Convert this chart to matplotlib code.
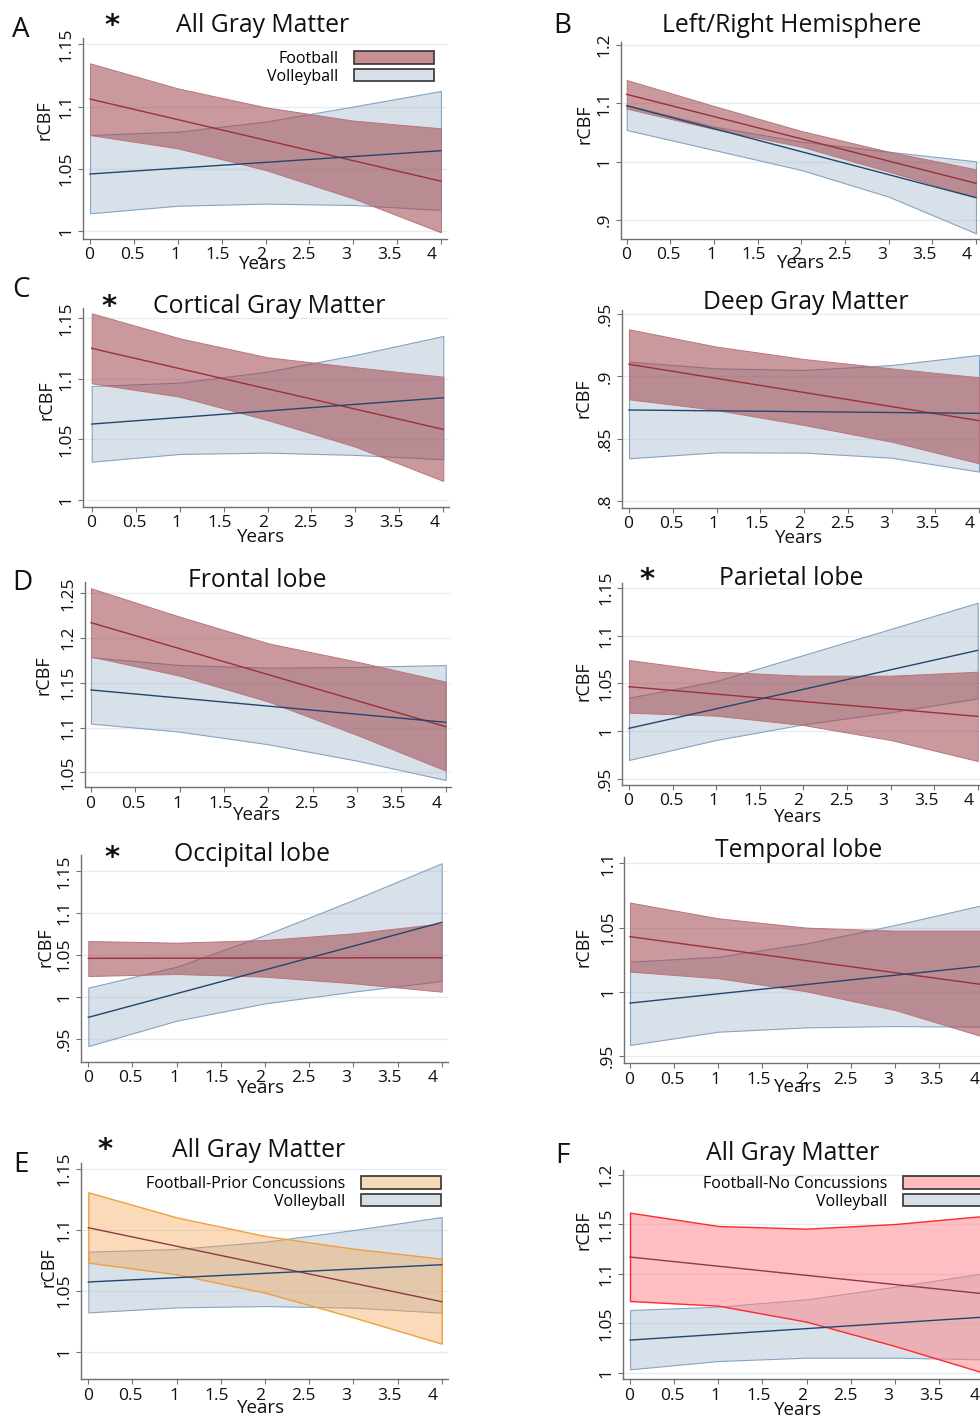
import matplotlib
matplotlib.use("Agg")
import matplotlib.pyplot as plt
from matplotlib.patches import Patch
from matplotlib.transforms import ScaledTranslation

plt.rcParams['font.family'] = ['Open Sans', 'DejaVu Sans']

# ---------------- data ----------------
years_band = [0, 1, 2, 3, 4]
years_line = [0, 4]
year_ticks = [0, 0.5, 1, 1.5, 2, 2.5, 3, 3.5, 4]
year_ticklabels = ['0', '0.5', '1', '1.5', '2', '2.5', '3', '3.5', '4']

# A: All Gray Matter
agm_fb_line = [1.106, 1.040]
agm_fb_hi = [1.1347, 1.1146, 1.0994, 1.0887, 1.0825]
agm_fb_lo = [1.0771, 1.0664, 1.0490, 1.0262, 0.9989]
agm_vb_line = [1.0458, 1.0645]
agm_vb_hi = [1.0771, 1.0798, 1.0879, 1.1000, 1.1125]
agm_vb_lo = [1.0142, 1.0203, 1.0220, 1.0209, 1.0169]

# B: Left/Right Hemisphere
lrh_fb_line = [1.1154, 0.9629]
lrh_fb_hi = [1.1400, 1.0954, 1.0526, 1.0171, 0.9869]
lrh_fb_lo = [1.0909, 1.0560, 1.0257, 0.9829, 0.9389]
lrh_vb_line = [1.0960, 0.9383]
lrh_vb_hi = [1.0971, 1.0600, 1.0343, 1.0171, 1.0006]
lrh_vb_lo = [1.0543, 1.0200, 0.9857, 0.9400, 0.8771]

# C: Cortical Gray Matter
cgm_fb_line = [1.1252, 1.0583]
cgm_fb_hi = [1.1541, 1.1335, 1.1178, 1.1095, 1.1018]
cgm_fb_lo = [1.0963, 1.0853, 1.0660, 1.0440, 1.0157]
cgm_vb_line = [1.0627, 1.0844]
cgm_vb_hi = [1.0941, 1.0969, 1.1060, 1.1197, 1.1354]
cgm_vb_lo = [1.0316, 1.0380, 1.0391, 1.0372, 1.0336]

# Deep Gray Matter
dgm_fb_line = [0.9098, 0.8644]
dgm_fb_hi = [0.9379, 0.9240, 0.9140, 0.9065, 0.8993]
dgm_fb_lo = [0.8816, 0.8730, 0.8609, 0.8475, 0.8301]
dgm_vb_line = [0.8730, 0.8703]
dgm_vb_hi = [0.9119, 0.9065, 0.9052, 0.9092, 0.9173]
dgm_vb_lo = [0.8341, 0.8389, 0.8387, 0.8346, 0.8234]

# D: Frontal lobe
fro_fb_line = [1.2172, 1.1010]
fro_fb_hi = [1.2556, 1.2239, 1.1941, 1.1736, 1.1513]
fro_fb_lo = [1.1792, 1.1580, 1.1290, 1.0917, 1.0519]
fro_vb_line = [1.1420, 1.1059]
fro_vb_hi = [1.1785, 1.1699, 1.1669, 1.1677, 1.1699]
fro_vb_lo = [1.1044, 1.0954, 1.0813, 1.0630, 1.0414]

# Parietal lobe
par_fb_line = [1.0465, 1.0155]
par_fb_hi = [1.0744, 1.0622, 1.0580, 1.0580, 1.0622]
par_fb_lo = [1.0193, 1.0162, 1.0064, 0.9908, 0.9688]
par_vb_line = [1.0030, 1.0845]
par_vb_hi = [1.0350, 1.0524, 1.0796, 1.1068, 1.1343]
par_vb_lo = [0.9699, 0.9908, 1.0071, 1.0197, 1.0343]

# Occipital lobe
occ_fb_line = [1.0460, 1.0468]
occ_fb_hi = [1.0667, 1.0647, 1.0679, 1.0759, 1.0878]
occ_fb_lo = [1.0249, 1.0273, 1.0241, 1.0162, 1.0062]
occ_vb_line = [0.9755, 1.0890]
occ_vb_hi = [1.0110, 1.0360, 1.0739, 1.1157, 1.1596]
occ_vb_lo = [0.9412, 0.9715, 0.9922, 1.0062, 1.0189]

# Temporal lobe
tem_fb_line = [1.0429, 1.0055]
tem_fb_hi = [1.0694, 1.0572, 1.0499, 1.0476, 1.0476]
tem_fb_lo = [1.0157, 1.0105, 1.0003, 0.9858, 0.9650]
tem_vb_line = [0.9912, 1.0201]
tem_vb_hi = [1.0234, 1.0273, 1.0377, 1.0520, 1.0676]
tem_vb_lo = [0.9586, 0.9689, 0.9723, 0.9733, 0.9728]

# E: All Gray Matter, football with prior concussions
epc_fb_line = [1.1019, 1.0411]
epc_fb_hi = [1.1310, 1.1104, 1.0951, 1.0847, 1.0764]
epc_fb_lo = [1.0732, 1.0636, 1.0485, 1.0282, 1.0066]
epc_vb_line = [1.0573, 1.0715]
epc_vb_hi = [1.0822, 1.0844, 1.0904, 1.1000, 1.1107]
epc_vb_lo = [1.0323, 1.0364, 1.0375, 1.0362, 1.0321]

# F: All Gray Matter, football without concussions
fnc_fb_line = [1.1170, 1.0799]
fnc_fb_hi = [1.1619, 1.1484, 1.1457, 1.1504, 1.1585]
fnc_fb_lo = [1.0725, 1.0678, 1.0516, 1.0270, 1.0000]
fnc_vb_line = [1.0330, 1.0562]
fnc_vb_hi = [1.0634, 1.0668, 1.0742, 1.0870, 1.1005]
fnc_vb_lo = [1.0034, 1.0118, 1.0152, 1.0152, 1.0135]

titles = ['All Gray Matter', 'Left/Right Hemisphere', 'Cortical Gray Matter',
          'Deep Gray Matter', 'Frontal lobe', 'Parietal lobe', 'Occipital lobe',
          'Temporal lobe', 'All Gray Matter', 'All Gray Matter']
legend_labels_A = ['Football', 'Volleyball']
legend_labels_E = ['Football-Prior Concussions', 'Volleyball']
legend_labels_F = ['Football-No Concussions', 'Volleyball']

yt_A = [1, 1.05, 1.1, 1.15]; ytl_A = ['1', '1.05', '1.1', '1.15']
yt_B = [0.9, 1.0, 1.1, 1.2]; ytl_B = ['.9', '1', '1.1', '1.2']
yt_C = [1, 1.05, 1.1, 1.15]; ytl_C = ['1', '1.05', '1.1', '1.15']
yt_DG = [0.8, 0.85, 0.9, 0.95]; ytl_DG = ['.8', '.85', '.9', '.95']
yt_FR = [1.05, 1.1, 1.15, 1.2, 1.25]; ytl_FR = ['1.05', '1.1', '1.15', '1.2', '1.25']
yt_PA = [0.95, 1, 1.05, 1.1, 1.15]; ytl_PA = ['.95', '1', '1.05', '1.1', '1.15']
yt_OC = [0.95, 1, 1.05, 1.1, 1.15]; ytl_OC = ['.95', '1', '1.05', '1.1', '1.15']
yt_TE = [0.95, 1, 1.05, 1.1]; ytl_TE = ['.95', '1', '1.05', '1.1']
yt_E = [1, 1.05, 1.1, 1.15]; ytl_E = ['1', '1.05', '1.1', '1.15']
yt_F = [1, 1.05, 1.1, 1.15, 1.2]; ytl_F = ['1', '1.05', '1.1', '1.15', '1.2']

# ---------------- styling ----------------
W, H = 980, 1418
fig = plt.figure(figsize=(W / 100, H / 100), dpi=100)
fig.patch.set_facecolor('white')

RED_FILL = (160/255, 69/255, 77/255, 0.55)
RED_EDGE = '#b8767c'
RED_LINE = '#9c2f3a'
BLUE_FILL = (169/255, 188/255, 207/255, 0.45)
BLUE_EDGE = '#86a4c2'
BLUE_LINE = '#24466e'
ORANGE_FILL = (244/255, 164/255, 81/255, 0.40)
ORANGE_EDGE = '#f0a03c'
PINK_FILL = (255/255, 127/255, 132/255, 0.50)
PINK_EDGE = '#ff2a2a'
FB2_LINE = '#8b3a46'
AXCOL = '#707070'
TXT = '#111111'


def px_ax(L):
    left, top, right, bottom = L['box']
    ax = fig.add_axes([left / W, 1 - bottom / H, (right - left) / W, (bottom - top) / H])
    ppx = (L['px4'] - L['px0']) / 4.0
    ax.set_xlim(-(L['px0'] - left) / ppx, 4 + (right - L['px4']) / ppx)
    (v1, p1), (v2, p2) = L['yref']
    ppy = (p2 - p1) / (v1 - v2)
    ax.set_ylim(v2 - (bottom - p2) / ppy, v1 + (p1 - top) / ppy)
    return ax


def to_ax(L, px, py):
    left, top, right, bottom = L['box']
    return (px - left) / (right - left), (bottom - py) / (bottom - top)


panels = [
    dict(data=(agm_fb_line, agm_fb_lo, agm_fb_hi, agm_vb_line, agm_vb_lo, agm_vb_hi),
         yt=yt_A, ytl=ytl_A, title=titles[0], style='red',
         box=(83, 38, 447, 239), px0=90, px4=441, yref=((1.15, 44.3), (1.0, 231)),
         tpos=(263, 31.7), ylab=(44, 120), xlab=(263, 269), letter=('A', 21, 36.7), star=(111.7, 25.5),
         legend=(legend_labels_A, 434, 51)),
    dict(data=(lrh_fb_line, lrh_fb_lo, lrh_fb_hi, lrh_vb_line, lrh_vb_lo, lrh_vb_hi),
         yt=yt_B, ytl=ytl_B, title=titles[1], style='red',
         box=(620.7, 42, 982, 239), px0=626.7, px4=976, yref=((1.2, 45), (0.9, 220)),
         tpos=(792, 31.7), ylab=(584, 124), xlab=(801, 268), letter=('B', 562, 33.3)),
    dict(data=(cgm_fb_line, cgm_fb_lo, cgm_fb_hi, cgm_vb_line, cgm_vb_lo, cgm_vb_hi),
         yt=yt_C, ytl=ytl_C, title=titles[2], style='red',
         box=(83, 308, 449, 507), px0=91.7, px4=443.3, yref=((1.15, 318.3), (1.0, 500)),
         tpos=(269, 313.3), ylab=(46, 400), xlab=(261, 541.7), letter=('C', 21, 297), star=(109, 307)),
    dict(data=(dgm_fb_line, dgm_fb_lo, dgm_fb_hi, dgm_vb_line, dgm_vb_lo, dgm_vb_hi),
         yt=yt_DG, ytl=ytl_DG, title=titles[3], style='red',
         box=(621.7, 310, 985, 508), px0=629, px4=979, yref=((0.95, 314.3), (0.8, 500.7)),
         tpos=(806, 309.3), ylab=(583, 398), xlab=(799, 543)),
    dict(data=(fro_fb_line, fro_fb_lo, fro_fb_hi, fro_vb_line, fro_vb_lo, fro_vb_hi),
         yt=yt_FR, ytl=ytl_FR, title=titles[4], style='red',
         box=(85, 582, 451, 787.3), px0=91, px4=445.7, yref=((1.25, 593.3), (1.05, 772.3)),
         tpos=(257, 587.3), ylab=(43, 675), xlab=(257, 820), letter=('D', 22, 590)),
    dict(data=(par_fb_line, par_fb_lo, par_fb_hi, par_vb_line, par_vb_lo, par_vb_hi),
         yt=yt_PA, ytl=ytl_PA, title=titles[5], style='red',
         box=(622.3, 583, 984, 785), px0=629, px4=977.7, yref=((1.15, 587.7), (0.95, 779)),
         tpos=(791, 585), ylab=(583, 681), xlab=(798, 821.7), star=(647, 579.5)),
    dict(data=(occ_fb_line, occ_fb_lo, occ_fb_hi, occ_vb_line, occ_vb_lo, occ_vb_hi),
         yt=yt_OC, ytl=ytl_OC, title=titles[6], style='red',
         box=(81, 855, 447.7, 1061.7), px0=88.3, px4=441.7, yref=((1.15, 871.3), (0.95, 1038.7)),
         tpos=(252.5, 860.7), ylab=(45, 947), xlab=(261, 1093), star=(112, 857.5)),
    dict(data=(tem_fb_line, tem_fb_lo, tem_fb_hi, tem_vb_line, tem_vb_lo, tem_vb_hi),
         yt=yt_TE, ytl=ytl_TE, title=titles[7], style='red',
         box=(624.3, 857.3, 989, 1063.3), px0=630, px4=983.3, yref=((1.1, 863.3), (0.95, 1056)),
         tpos=(799, 856.7), ylab=(583, 947), xlab=(798, 1091.7)),
    dict(data=(epc_fb_line, epc_fb_lo, epc_fb_hi, epc_vb_line, epc_vb_lo, epc_vb_hi),
         yt=yt_E, ytl=ytl_E, title=titles[8], style='orange',
         box=(81, 1163.3, 447.7, 1379.3), px0=88.3, px4=441.7, yref=((1.15, 1169.2), (1.0, 1351.7)),
         tpos=(259, 1156.7), ylab=(48, 1267), xlab=(261, 1413.3), letter=('E', 21, 1171.7), star=(105, 1150.5),
         legend=(legend_labels_E, 441, 1176)),
    dict(data=(fnc_fb_line, fnc_fb_lo, fnc_fb_hi, fnc_vb_line, fnc_vb_lo, fnc_vb_hi),
         yt=yt_F, ytl=ytl_F, title=titles[9], style='pink',
         box=(622.7, 1170, 989, 1379.3), px0=630, px4=983.3, yref=((1.2, 1175), (1.0, 1372.7)),
         tpos=(793, 1160), ylab=(584, 1230), xlab=(798, 1415), letter=('F', 562, 1163.3),
         legend=(legend_labels_F, 983, 1176)),
]

for P in panels:
    ax = px_ax(P)
    fb_line, fb_lo, fb_hi, vb_line, vb_lo, vb_hi = P['data']
    if P['style'] == 'red':
        ffill, fedge, fline, flw = RED_FILL, RED_EDGE, RED_LINE, 0.7
        leg_col = '#c58f93'
    elif P['style'] == 'orange':
        ffill, fedge, fline, flw = ORANGE_FILL, ORANGE_EDGE, FB2_LINE, 1.0
        leg_col = '#f9dab8'
    else:
        ffill, fedge, fline, flw = PINK_FILL, PINK_EDGE, FB2_LINE, 1.0
        leg_col = '#ffbcbe'

    ax.set_yticks(P['yt'])
    ax.set_yticklabels(P['ytl'])
    ax.set_xticks(year_ticks)
    ax.set_xticklabels(year_ticklabels)
    ax.grid(axis='y', color='#e6edf2', lw=1.0, zorder=0)
    ax.set_axisbelow(True)

    ax.fill_between(years_band, vb_lo, vb_hi, facecolor=BLUE_FILL, edgecolor=BLUE_EDGE, lw=0.8, zorder=2)
    ax.fill_between(years_band, fb_lo, fb_hi, facecolor=ffill, edgecolor=fedge, lw=flw, zorder=3)
    ax.plot(years_line, fb_line, color=fline, lw=1.0, zorder=4)
    ax.plot(years_line, vb_line, color=BLUE_LINE, lw=1.0, zorder=5)

    for s in ['top', 'right']:
        ax.spines[s].set_visible(False)
    for s in ['left', 'bottom']:
        ax.spines[s].set_color(AXCOL)
        ax.spines[s].set_linewidth(1.0)
    ax.tick_params(axis='both', colors=AXCOL, labelcolor=TXT, labelsize=12.5,
                   length=3.5, width=0.8, pad=2.5)
    for lab in ax.get_yticklabels():
        lab.set_rotation(90)
        lab.set_va('center')
        lab.set_ha('right')
    # Stata-like placement: x tick labels sit slightly left of their tick marks
    for xv, lab in zip(year_ticks, ax.get_xticklabels()):
        dx = -(0.6 + 2.1 * xv) / 100.0
        lab.set_transform(lab.get_transform() + ScaledTranslation(dx, 0, fig.dpi_scale_trans))

    ax.set_xlabel('Years', fontsize=13.5, color=TXT)
    ax.xaxis.label.set_va('baseline')
    ax.xaxis.set_label_coords(*to_ax(P, *P['xlab']))
    ax.set_ylabel('rCBF', fontsize=13, color=TXT)
    ax.yaxis.label.set_va('center')
    ax.yaxis.set_label_coords(*to_ax(P, *P['ylab']))

    tx, ty = P['tpos']
    fig.text(tx / W, 1 - ty / H, P['title'], ha='center', va='baseline', fontsize=17.8, color=TXT)
    if 'letter' in P:
        l, lx, ly = P['letter']
        fig.text(lx / W, 1 - ly / H, l, ha='center', va='baseline', fontsize=20, color=TXT)
    if 'star' in P:
        sx, sy = P['star']
        fig.text(sx / W, 1 - sy / H, '*', ha='center', va='center', fontsize=21,
                 fontweight='bold', family='DejaVu Sans', color=TXT)
    if 'legend' in P:
        labels, rx, ty2 = P['legend']
        handles = [Patch(facecolor=leg_col, edgecolor='#333333', lw=1.2),
                   Patch(facecolor='#d7e0e8', edgecolor='#333333', lw=1.2)]
        ax.legend(handles, labels, loc='upper right', bbox_to_anchor=(rx / W, 1 - ty2 / H),
                  bbox_transform=fig.transFigure, frameon=False, markerfirst=False,
                  fontsize=11.5, handlelength=5.0, handleheight=0.8, handletextpad=1.0,
                  labelspacing=0.1, borderpad=0, borderaxespad=0)

fig.savefig('out.png', dpi=100, facecolor='white')
